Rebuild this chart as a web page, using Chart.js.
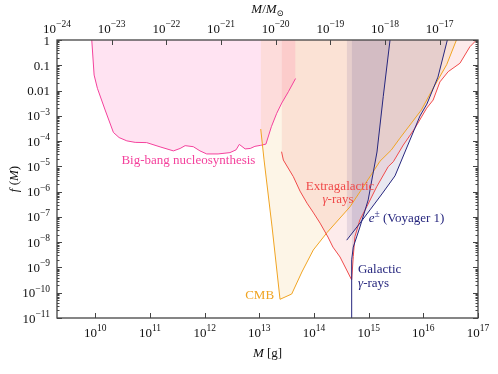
<!DOCTYPE html>
<html><head><meta charset="utf-8">
<script src="https://cdn.jsdelivr.net/npm/chart.js@4/dist/chart.umd.min.js"></script>
<style>html,body{margin:0;padding:0;background:#fff}#wrap{width:498px;height:374px}</style>
</head><body><div id="wrap"><canvas id="c" width="498" height="374"></canvas></div>
<script>
const MSUN = 1.989e33;
const M_MIN = 1e-24 * MSUN;
const M_MAX = 1e17;
const F_MIN = 1e-11, F_MAX = 1;

// Big-bang nucleosynthesis
const bbnM = [8.6e9, 9.5e9, 1.09e10, 1.51e10, 2.14e10, 2.72e10, 3.77e10, 5.35e10, 8.7e10, 1.53e11, 2.68e11, 3.55e11, 4.39e11, 6.2e11, 8.2e11, 1.09e12, 1.76e12, 2.9e12, 3.75e12, 4.3e12, 5.5e12, 6.8e12, 8.3e12, 1.06e13, 1.32e13, 1.66e13, 2.08e13, 2.57e13, 3.4e13, 4.6e13];
const bbnF = [1, 0.041, 0.0123, 1.7e-3, 2.2e-4, 1.38e-4, 1.02e-4, 8.9e-5, 8.7e-5, 5.9e-5, 4.1e-5, 5.1e-5, 6.6e-5, 6.0e-5, 4.1e-5, 3.1e-5, 3.1e-5, 3.5e-5, 4.5e-5, 7.4e-5, 4.9e-5, 5.1e-5, 6.2e-5, 6.8e-5, 7.6e-5, 3.7e-4, 1.26e-3, 3.2e-3, 9.0e-3, 0.030];
// CMB
const cmbM = [1.06e13, 1.22e13, 1.71e13, 2.39e13, 3.91e13, 6.0e13, 9.7e13, 1.73e14, 4.55e14, 1.11e15, 1.61e15, 2.59e15, 3.73e15, 9.2e15, 1.52e16, 2.67e16, 4.03e16];
const cmbF = [3.0e-4, 1.8e-5, 4.0e-8, 5.5e-11, 8.9e-11, 6.6e-10, 4.9e-9, 2.4e-8, 2.5e-7, 4.6e-6, 1.6e-5, 4.4e-5, 1.3e-4, 1.7e-3, 1.26e-2, 0.105, 1];
// Extragalactic gamma-rays
const egM = [2.55e13, 2.75e13, 4.19e13, 5.55e13, 7.45e13, 9.6e13, 1.29e14, 1.80e14, 2.22e14, 2.99e14, 3.96e14, 4.89e14, 5.23e14, 5.6e14, 6.9e14, 9.2e14, 1.40e15, 2.28e15, 2.82e15, 4.30e15, 7.0e15, 1.15e16, 1.51e16, 2.01e16, 2.85e16, 4.67e16, 7.1e16, 9.4e16];
const egF = [3.8e-5, 1.78e-5, 3.9e-6, 1.05e-6, 3.5e-7, 1.55e-7, 5.7e-8, 1.6e-8, 6.4e-9, 2.6e-9, 7.9e-10, 3.2e-10, 2.7e-9, 1.65e-8, 7.6e-8, 2.5e-7, 1.55e-6, 9.8e-6, 1.52e-5, 7.0e-5, 3.2e-4, 2.0e-3, 4.2e-3, 0.022, 0.056, 0.12, 0.54, 1];
// e+- Voyager 1
const voyM = [3.96e14, 7.2e14, 1.06e15, 1.75e15, 3.03e15, 5.69e15, 8.67e15, 1.16e16, 1.85e16, 2.75e16];
const voyF = [1.2e-8, 6.3e-8, 1.9e-7, 8.1e-7, 4.2e-6, 1.1e-4, 9.8e-4, 2.9e-3, 0.034, 1];
// Galactic gamma-rays
const galM = [4.89e14, 4.89e14, 5.23e14, 6.93e14, 9.8e14, 1.42e15, 1.85e15, 2.46e15];
const galF = [1e-11, 2.0e-9, 6.4e-9, 4.0e-8, 4.7e-7, 3.7e-5, 5.9e-3, 1];

// ticks
const xTickValues = [1e10, 1e11, 1e12, 1e13, 1e14, 1e15, 1e16, 1e17];
const xTickLabels = ['10^10', '10^11', '10^12', '10^13', '10^14', '10^15', '10^16', '10^17'];
const topTickValues = [1e-24, 1e-23, 1e-22, 1e-21, 1e-20, 1e-19, 1e-18, 1e-17];
const topTickLabels = ['10^-24', '10^-23', '10^-22', '10^-21', '10^-20', '10^-19', '10^-18', '10^-17'];
const yTickValues = [1, 0.1, 0.01, 1e-3, 1e-4, 1e-5, 1e-6, 1e-7, 1e-8, 1e-9, 1e-10, 1e-11];
const yTickLabels = ['1', '0.1', '0.01', '10^-3', '10^-4', '10^-5', '10^-6', '10^-7', '10^-8', '10^-9', '10^-10', '10^-11'];

// annotations
const annoText = ['Big-bang nucleosynthesis', 'CMB', 'Extragalactic', 'γ-rays', 'e± (Voyager 1)', 'Galactic', 'γ-rays'];
const annoM = [3.0e10, 1.86e13, 2.99e14, 2.75e14, 1.0e15, 6.37e14, 6.4e14];
const annoF = [1.8e-5, 8.9e-11, 1.8e-6, 5.6e-7, 9.1e-8, 9.5e-10, 2.5e-10];
const annoAlign = ['left', 'right', 'center', 'center', 'left', 'left', 'left'];

const C_BBN = '#f4419c', C_CMB = '#f0a422', C_EG = '#f04a4a', C_NAVY = '#26267e';
const annoColor = [C_BBN, C_CMB, C_EG, C_EG, C_NAVY, C_NAVY, C_NAVY];

const FONT = "'Liberation Serif','DejaVu Serif','Times New Roman',serif";
function fnt(sz, it) { return (it ? 'italic ' : '') + sz + 'px ' + FONT; }
function drawRuns(ctx, runs, x, y, align) {
  let w = 0;
  runs.forEach(r => { ctx.font = fnt(r.sz || 13, r.it); r.w = ctx.measureText(r.t).width; w += r.w; });
  let cx = align === 'center' ? x - w / 2 : align === 'right' ? x - w : x;
  ctx.textAlign = 'left'; ctx.textBaseline = 'alphabetic';
  runs.forEach(r => { ctx.font = fnt(r.sz || 13, r.it); ctx.fillText(r.t, cx, y + (r.dy || 0)); cx += r.w; });
}
function powRuns(label) {
  const parts = label.split('^');
  const r = [{ t: parts[0], sz: 13 }];
  if (parts.length > 1) r.push({ t: parts[1].replace('-', '\u2212'), sz: 9.5, dy: -5.5 });
  return r;
}
function annoRuns(t) {
  if (t.startsWith('γ')) return [{ t: 'γ', it: true }, { t: t.slice(1) }];
  if (t.startsWith('e±')) return [{ t: 'e', it: true }, { t: '±', sz: 9.5, dy: -5 }, { t: t.slice(2) }];
  return [{ t: t }];
}
const pts = (xs, ys) => xs.map((v, i) => ({ x: v, y: ys[i] }));

const axesPlugin = {
  id: 'axesPlugin',
  afterDraw(chart) {
    const { ctx, chartArea: a, scales } = chart;
    const x = scales.x, y = scales.y, x2 = scales.x2;
    ctx.save();
    annoText.forEach((t, i) => {
      ctx.fillStyle = annoColor[i];
      drawRuns(ctx, annoRuns(t), x.getPixelForValue(annoM[i]), y.getPixelForValue(annoF[i]) + 4.5, annoAlign[i]);
    });
    ctx.strokeStyle = '#444'; ctx.lineWidth = 1.3;
    ctx.strokeRect(a.left, a.top, a.right - a.left, a.bottom - a.top);
    ctx.strokeStyle = '#444'; ctx.lineWidth = 1;
    ctx.beginPath();
    for (let e = -11; e <= 0; e++) {
      for (let m = 1; m <= 9; m++) {
        const v = m * Math.pow(10, e);
        if (v > F_MAX * 1.0001) continue;
        const py = Math.round(y.getPixelForValue(v)) + 0.5;
        const len = m === 1 ? 5 : 2.5;
        ctx.moveTo(a.left, py); ctx.lineTo(a.left + len, py);
        ctx.moveTo(a.right, py); ctx.lineTo(a.right - len, py);
      }
    }
    xTickValues.forEach(v => {
      const px = Math.round(x.getPixelForValue(v)) + 0.5;
      ctx.moveTo(px, a.bottom); ctx.lineTo(px, a.bottom - 5);
    });
    topTickValues.forEach(v => {
      const px = Math.round(x2.getPixelForValue(v)) + 0.5;
      ctx.moveTo(px, a.top); ctx.lineTo(px, a.top + 5);
    });
    ctx.stroke();
    ctx.fillStyle = '#111';
    yTickValues.forEach((v, i) => drawRuns(ctx, powRuns(yTickLabels[i]), a.left - 7, y.getPixelForValue(v) + 4.5, 'right'));
    xTickValues.forEach((v, i) => drawRuns(ctx, powRuns(xTickLabels[i]), x.getPixelForValue(v), a.bottom + 18.5, 'center'));
    topTickValues.forEach((v, i) => drawRuns(ctx, powRuns(topTickLabels[i]), x2.getPixelForValue(v), a.top - 7.5, 'center'));
    const cx = (a.left + a.right) / 2;
    drawRuns(ctx, [{ t: 'M', it: true }, { t: '/' }, { t: 'M', it: true }, { t: '\u2299', sz: 8.5, dy: 3 }], cx, 13, 'center');
    drawRuns(ctx, [{ t: 'M', it: true }, { t: ' [g]' }], cx, 357, 'center');
    ctx.save();
    ctx.translate(18, (a.top + a.bottom) / 2);
    ctx.rotate(-Math.PI / 2);
    drawRuns(ctx, [{ t: 'f', it: true }, { t: ' (' }, { t: 'M', it: true }, { t: ')' }], 0, 0, 'center');
    ctx.restore();
    ctx.restore();
  }
};

const ds = (label, xs, ys, line, fill) => ({
  label, data: pts(xs, ys), showLine: true, pointRadius: 0, borderWidth: 1,
  borderColor: line, backgroundColor: fill, fill: 'end', tension: 0
});

new Chart(document.getElementById('c'), {
  type: 'scatter',
  data: {
    datasets: [
      ds('Galactic', galM, galF, C_NAVY, 'rgba(40,30,120,0.10)'),
      ds('Voyager', voyM, voyF, C_NAVY, 'rgba(40,30,120,0.10)'),
      ds('Extragalactic', egM, egF, C_EG, 'rgba(240,60,60,0.10)'),
      ds('CMB', cmbM, cmbF, C_CMB, 'rgba(240,160,40,0.11)'),
      ds('BBN', bbnM, bbnF, C_BBN, 'rgba(255,60,160,0.14)')
    ]
  },
  options: {
    responsive: false, animation: false, devicePixelRatio: 1, events: [],
    layout: { padding: { left: 0, top: 0, right: 20, bottom: 0 } },
    plugins: { legend: { display: false }, tooltip: { enabled: false }, filler: { drawTime: 'beforeDatasetsDraw' } },
    scales: {
      x: { type: 'logarithmic', position: 'bottom', min: M_MIN, max: M_MAX,
           ticks: { display: false }, grid: { display: false }, border: { display: false },
           afterFit: s => { s.height = 56; } },
      x2: { type: 'logarithmic', position: 'top', min: M_MIN / MSUN, max: M_MAX / MSUN,
           ticks: { display: false }, grid: { display: false }, border: { display: false },
           afterFit: s => { s.height = 40; } },
      y: { type: 'logarithmic', position: 'left', min: F_MIN, max: F_MAX,
           ticks: { display: false }, grid: { display: false }, border: { display: false },
           afterFit: s => { s.width = 57; } }
    }
  },
  plugins: [axesPlugin]
});
</script>
</body></html>
